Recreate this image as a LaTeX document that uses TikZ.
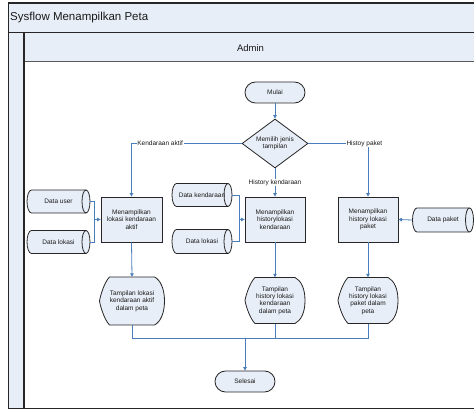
\documentclass[tikz,border=0pt]{standalone}
\usepackage{fontspec}
\setmainfont{Liberation Sans}
\usetikzlibrary{arrows.meta,shapes.geometric}
\definecolor{lanefill}{HTML}{E8EEF7}
\definecolor{nodefill}{HTML}{E8EEF7}
\definecolor{conncol}{HTML}{4A7EBB}
\definecolor{framecol}{HTML}{262626}
\definecolor{txtcol}{HTML}{1A1A1A}
\newcommand\drawcyl[4]{% cx cy w h
  \filldraw[shapeline] ({#1-#3/2+4.5},{#2+#4/2}) -- ({#1+#3/2-4},{#2+#4/2})
    arc[start angle=90,end angle=-90,x radius=4,y radius=#4/2]
    -- ({#1-#3/2+4.5},{#2-#4/2})
    arc[start angle=270,end angle=90,x radius=4.5,y radius=#4/2] -- cycle;
  \draw[shapeline,fill=none] ({#1+#3/2-4},{#2+#4/2})
    arc[start angle=90,end angle=270,x radius=4,y radius=#4/2];}
\newcommand\drawdisp[4]{% cx cy w h
  \filldraw[shapeline] ({#1-#3/2},{#2})
    .. controls ({#1-#3/2+1},{#2+6}) and ({#1-#3/2+5},{#2+#4/2-5}) .. ({#1-#3/2+10},{#2+#4/2})
    -- ({#1+#3/2-10},{#2+#4/2})
    .. controls ({#1+#3/2-4},{#2+#4/2-3}) and ({#1+#3/2},{#2+12}) .. ({#1+#3/2},{#2})
    .. controls ({#1+#3/2},{#2-12}) and ({#1+#3/2-4},{#2-#4/2+3}) .. ({#1+#3/2-10},{#2-#4/2})
    -- ({#1-#3/2+10},{#2-#4/2})
    .. controls ({#1-#3/2+5},{#2-#4/2+5}) and ({#1-#3/2+1},{#2-6}) .. cycle;}
\tikzset{
  shapeline/.style={draw=framecol,fill=nodefill,line width=0.8pt},
  nodetext/.style={font=\fontsize{6.5}{7.4}\selectfont,text=txtcol,align=center,inner sep=0pt},
  term/.style={nodetext,shapeline,rectangle,rounded corners=10.5pt,minimum width=60pt,minimum height=21pt},
  decision/.style={nodetext,shapeline,diamond,aspect=1.35,minimum width=66pt,minimum height=49pt},
  procbox/.style={nodetext,shapeline,rectangle,minimum width=60pt,minimum height=45pt},
  ghost/.style={nodetext,rectangle,draw=none,fill=none},
  conn/.style={draw=conncol,line width=0.8pt},
  arr/.style={conn,-{Triangle[length=3.5pt,width=3.5pt]}},
  lbl/.style={font=\fontsize{6.5}{7.4}\selectfont,text=txtcol,fill=white,inner sep=0.8pt},
  framel/.style={draw=framecol,line width=1.4pt}
}
\begin{document}
\begin{tikzpicture}[x=1pt,y=1pt]
\useasboundingbox (0,0) rectangle (474,410);
\clip (0,0) rectangle (474,410);
% pool and lane
\fill[lanefill] (8.5,377.5) rectangle (480,407);
\fill[lanefill] (24,348) rectangle (480,377.5);
\fill[lanefill] (8.5,1.5) rectangle (24,377.5);
\draw[draw=gray!70!black,line width=1pt] (24,348) -- (480,348);
\draw[framel] (480,407) -- (8.5,407) -- (8.5,1.5) -- (480,1.5);
\draw[framel] (8.5,377.5) -- (480,377.5);
\draw[framel] (24,377.5) -- (24,1.5);
\node[anchor=west,font=\fontsize{11.5}{13}\selectfont,text=txtcol,inner sep=0pt] (title) at (10,392) {Sysflow Menampilkan Peta};
\node[font=\fontsize{9.5}{11}\selectfont,text=txtcol,inner sep=0pt] (lane) at (250.5,362) {Admin};
% flow nodes
\node[term] (mulai) at (275,317.5) {Mulai};
\node[decision] (dia) at (275,266.5) {Memilih jenis\\tampilan};
\node[procbox,minimum width=61pt] (b1) at (131.5,190.5) {Menampilkan\\lokasi kendaraan\\aktif};
\node[procbox] (b2) at (275,190.5) {Menampilkan\\historylokasi\\kendaraan};
\node[procbox] (b3) at (368,190.5) {Menampilkan\\history lokasi\\paket};
% data stores
\drawcyl{58.5}{208.5}{63}{23}
\node[ghost,minimum width=63pt,minimum height=23pt] (du) at (58.5,208.5) {Data user};
\drawcyl{58.5}{168}{63}{23}
\node[ghost,minimum width=63pt,minimum height=23pt] (dl1) at (58.5,168) {Data lokasi};
\drawcyl{202}{215}{60}{23}
\node[ghost,minimum width=60pt,minimum height=23pt] (dk) at (202,215) {Data kendaraan};
\drawcyl{202}{168.5}{60}{24}
\node[ghost,minimum width=60pt,minimum height=24pt] (dl2) at (202,168.5) {Data lokasi};
\drawcyl{443}{190}{61}{24}
\node[ghost,minimum width=61pt,minimum height=24pt] (dp) at (443,190) {Data paket};
% displays
\drawdisp{132}{109}{65}{48}
\node[ghost,minimum width=65pt,minimum height=48pt] (d1) at (132,109) {Tampilan lokasi\\kendaraan aktif\\dalam peta};
\drawdisp{275}{109.5}{60}{46}
\node[ghost,minimum width=60pt,minimum height=46pt] (d2) at (275,109.5) {Tampilan\\history lokasi\\kendaraan\\dalam peta};
\drawdisp{368}{109.5}{60}{46}
\node[ghost,minimum width=60pt,minimum height=46pt] (d3) at (368,109.5) {Tampilan\\history lokasi\\paket dalam\\peta};
\node[term] (sel) at (245,28.5) {Selesai};
% junctions
\coordinate (j1) at (94,190.5);
\coordinate (j2) at (239,190.5);
\coordinate (j3) at (245,72);
% connectors
\draw[arr] (mulai) -- (dia);
\draw[arr] (dia.west) -| (b1.north) node[lbl,pos=0.37] {Kendaraan aktif};
\draw[arr] (dia.east) -| (b3.north) node[lbl,pos=0.47] {Histoy paket};
\draw[arr] (dia.south) -- (b2.north) node[lbl,pos=0.5] {History kendaraan};
\draw[conn] (du.east) -| (j1);
\draw[conn] (dl1.east) -| (j1);
\draw[arr] (j1) -- (b1.west);
\draw[conn] (dk.east) -| (j2);
\draw[conn] (dl2.east) -| (j2);
\draw[arr] (j2) -- (b2.west);
\draw[arr] (dp.west) -- (b3.east);
\draw[arr] (b1.south) -- (d1.north);
\draw[arr] (b2.south) -- (d2.north);
\draw[arr] (b3.south) -- (d3.north);
\draw[conn] (d1.south) |- (j3);
\draw[conn] (d2.south) |- (j3);
\draw[conn] (d3.south) |- (j3);
\draw[arr] (j3) -- (sel.north);
\end{tikzpicture}
\end{document}
